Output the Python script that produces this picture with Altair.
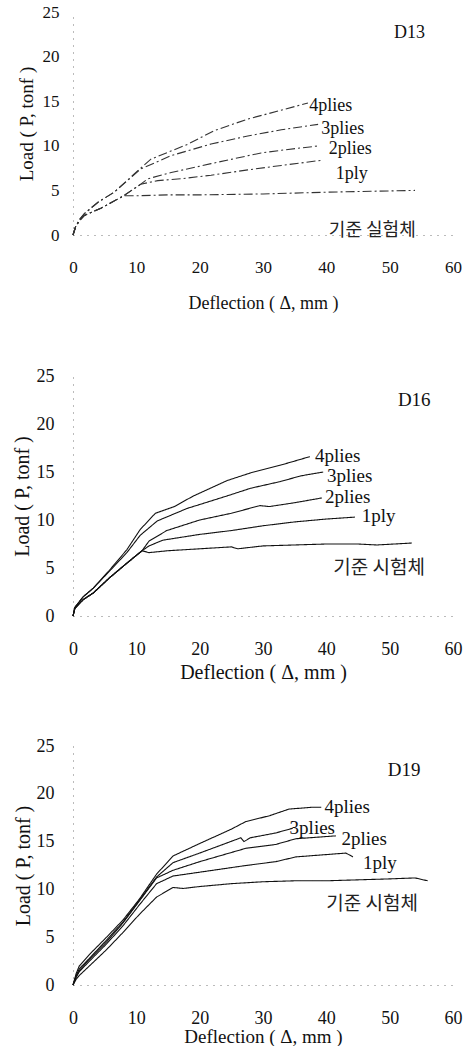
import altair as alt
import pandas as pd

# ---------------- data ----------------
SERIES = ["기준", "1ply", "2plies", "3plies", "4plies"]

# D13
D13_BASE_X = [0, 0.4, 1, 1.8, 4.4, 8, 10, 15, 20, 30, 40, 47, 54]
D13_BASE_Y = [0, 0.9, 1.6, 2.2, 3.0, 4.4, 4.4, 4.5, 4.5, 4.6, 4.8, 4.9, 5.0]
D13_1PLY_X = [0, 0.4, 1, 1.8, 4.4, 8, 10.7, 13.4, 17, 21.8, 27.6, 32.9, 39.5]
D13_1PLY_Y = [0, 0.9, 1.6, 2.2, 3.0, 4.4, 5.7, 6.1, 6.3, 6.7, 7.3, 7.8, 8.4]
D13_2PLY_X = [0, 0.4, 1, 1.8, 4.4, 8, 10.7, 11.8, 15.5, 21.8, 29.7, 32.9, 38.9]
D13_2PLY_Y = [0, 0.9, 1.6, 2.2, 3.0, 4.4, 5.7, 6.3, 7.0, 8.0, 9.2, 9.5, 10.0]
D13_3PLY_X = [0, 0.4, 1, 1.8, 4, 6.5, 10.7, 15.5, 21.8, 27.6, 32.9, 38.7]
D13_3PLY_Y = [0, 0.9, 1.7, 2.4, 3.7, 4.8, 7.4, 8.9, 10.2, 11.1, 11.8, 12.4]
D13_4PLY_X = [0, 0.4, 1, 1.8, 4, 6.5, 10.7, 12.3, 18.2, 22.3, 27.6, 32.4, 37.1]
D13_4PLY_Y = [0, 0.9, 1.7, 2.4, 3.7, 4.8, 7.5, 8.5, 10.2, 11.7, 13.0, 13.9, 14.8]

# D16
D16_BASE_X = [0, 0.3, 1.6, 3.2, 5.8, 8.5, 10.9, 12, 15, 20, 25, 26, 30, 35, 40, 45, 48, 53.5]
D16_BASE_Y = [0, 0.8, 1.7, 2.4, 4.0, 5.5, 6.8, 6.6, 6.8, 7.0, 7.2, 7.0, 7.3, 7.4, 7.5, 7.5, 7.4, 7.6]
D16_1PLY_X = [0, 0.3, 1.6, 3.2, 5.8, 8.5, 10.9, 12, 14.2, 20, 25, 30, 35, 40, 44.5]
D16_1PLY_Y = [0, 0.8, 1.7, 2.4, 4.0, 5.5, 6.8, 7.3, 7.9, 8.5, 8.9, 9.4, 9.8, 10.1, 10.3]
D16_2PLY_X = [0, 0.3, 1.6, 3.2, 5.8, 8.5, 10.9, 12, 14.8, 20, 25, 29.5, 31, 35, 39.3]
D16_2PLY_Y = [0, 0.8, 1.7, 2.4, 4.0, 5.5, 6.8, 7.8, 8.9, 10.0, 10.7, 11.5, 11.4, 11.8, 12.3]
D16_3PLY_X = [0, 0.3, 1.6, 3.2, 5.8, 8.5, 10.6, 13.3, 18, 24.3, 28, 32.7, 36, 39.5]
D16_3PLY_Y = [0, 0.9, 2.0, 2.9, 4.7, 6.6, 8.4, 9.9, 11.2, 12.5, 13.3, 14.0, 14.6, 15.0]
D16_4PLY_X = [0, 0.3, 1.6, 3.2, 5.8, 8.5, 10.6, 13, 16, 19, 24.3, 28, 32.7, 37.4]
D16_4PLY_Y = [0, 0.9, 2.0, 2.9, 4.8, 6.9, 9.0, 10.7, 11.4, 12.5, 14.1, 14.9, 15.7, 16.6]

# D19
D19_BASE_X = [0, 0.5, 1, 2.6, 5.3, 7.9, 10.5, 13.2, 15.8, 17.4, 20, 25, 30, 35, 40, 45, 50, 54, 56]
D19_BASE_Y = [0, 0.6, 1.0, 2.0, 3.7, 5.5, 7.4, 9.2, 10.2, 10.1, 10.3, 10.6, 10.8, 10.9, 10.9, 11.0, 11.1, 11.2, 10.9]
D19_1PLY_X = [0, 0.5, 1, 2.6, 5.3, 7.9, 10.5, 13.2, 15.8, 20, 27.3, 32, 35.2, 43.1, 44.2]
D19_1PLY_Y = [0, 0.8, 1.4, 2.5, 4.3, 6.2, 8.4, 10.6, 11.4, 11.8, 12.5, 12.9, 13.4, 13.8, 13.4]
D19_2PLY_X = [0, 0.5, 1, 2.6, 5.3, 7.9, 10.5, 13.2, 15.8, 20, 27.3, 32, 35.2, 41.5]
D19_2PLY_Y = [0, 0.9, 1.5, 2.7, 4.5, 6.5, 8.8, 11.2, 12.0, 12.9, 14.3, 14.7, 15.3, 15.6]
D19_3PLY_X = [0, 0.5, 1, 2.6, 5.3, 7.9, 10.5, 13.2, 15.8, 20, 26.5, 27, 28, 32, 34.7]
D19_3PLY_Y = [0, 1.0, 1.7, 2.8, 4.7, 6.6, 8.9, 11.3, 12.8, 13.8, 15.4, 15.0, 15.4, 15.9, 16.4]
D19_4PLY_X = [0, 0.5, 1, 2.6, 5.3, 7.9, 10.5, 13.2, 15.8, 20, 25, 27.3, 31, 34.1, 37.9, 39.2]
D19_4PLY_Y = [0, 1.2, 2.0, 3.2, 5.0, 6.8, 9.0, 11.6, 13.5, 14.8, 16.3, 17.1, 17.7, 18.4, 18.6, 18.6]

# curve labels: text, x (left edge), y (centre)
D13_LABELS = ["4plies", "3plies", "2plies", "1ply"]
D13_LABEL_X = [37.3, 39.2, 40.4, 41.5]
D13_LABEL_Y = [14.5, 11.9, 9.6, 6.8]
D16_LABELS = ["4plies", "3plies", "2plies", "1ply"]
D16_LABEL_X = [38.2, 40.1, 39.8, 45.6]
D16_LABEL_Y = [16.7, 14.6, 12.4, 10.4]
D19_LABELS = ["4plies", "3plies", "2plies", "1ply"]
D19_LABEL_X = [39.7, 34.2, 42.4, 45.8]
D19_LABEL_Y = [18.6, 16.4, 15.3, 12.8]

KOR_LABELS = ["기준 실험체", "기준 시험체", "기준 시험체"]
KOR_X = [40.4, 41.1, 40.0]
KOR_Y = [0.45, 5.0, 8.5]

PANEL_NAMES = ["D13", "D16", "D19"]
PANEL_NAME_X = [50.7, 51.3, 49.7]
PANEL_NAME_Y = [22.6, 22.5, 22.5]

X_TICKS = [0, 10, 20, 30, 40, 50, 60]
Y_TICKS = [0, 5, 10, 15, 20, 25]

SERIF = "Liberation Serif"
KFONT = "Noto Sans CJK KR"


def curves_df(xs_list, ys_list):
    rows = []
    for name, xs, ys in zip(SERIES, xs_list, ys_list):
        for i, (x, y) in enumerate(zip(xs, ys)):
            rows.append({"series": name, "x": x, "y": y, "i": i})
    return pd.DataFrame(rows)


def panel(k, xs_list, ys_list, labels, lx, ly, height, dash, stroke,
          tick_font, xt_font, yt_font, lab_font, kor_font,
          lab_pad_y, title_pad_x, title_pad_y):
    df = curves_df(xs_list, ys_list)
    xsc = alt.Scale(domain=[0, 60], nice=False, zero=False)
    ysc = alt.Scale(domain=[0, 25], nice=False, zero=False)
    xax = alt.Axis(values=X_TICKS, title="Deflection ( Δ, mm )", grid=False,
                   ticks=False, tickSize=0, labelPadding=24,
                   labelFontSize=tick_font, titleFontSize=xt_font,
                   titlePadding=title_pad_x,
                   labelFont=SERIF, titleFont=SERIF, titleFontWeight="normal",
                   domainDash=[1, 6], domainColor="#777", labelColor="#111",
                   titleColor="#111", labelFlush=False)
    yax = alt.Axis(values=Y_TICKS, title="Load ( P, tonf )", grid=False,
                   ticks=False, tickSize=0, labelPadding=lab_pad_y,
                   labelFontSize=tick_font, titleFontSize=yt_font,
                   titlePadding=title_pad_y, labelFont=SERIF, titleFont=SERIF,
                   titleFontWeight="normal", domainDash=[1, 6],
                   domainColor="#777", labelColor="#111", titleColor="#111",
                   labelFlush=False)
    lines = alt.Chart(df).mark_line(
        color=stroke, strokeWidth=1.1, strokeDash=dash, interpolate="linear"
    ).encode(
        x=alt.X("x:Q", scale=xsc, axis=xax),
        y=alt.Y("y:Q", scale=ysc, axis=yax),
        detail="series:N",
        order="i:Q",
    )
    lab_df = pd.DataFrame({"t": labels, "x": lx, "y": ly})
    labs = alt.Chart(lab_df).mark_text(
        align="left", baseline="middle", font=SERIF, fontSize=lab_font,
        color="#111"
    ).encode(x=alt.X("x:Q", scale=xsc), y=alt.Y("y:Q", scale=ysc), text="t:N")
    kor_df = pd.DataFrame({"t": [KOR_LABELS[k]], "x": [KOR_X[k]], "y": [KOR_Y[k]]})
    kor = alt.Chart(kor_df).mark_text(
        align="left", baseline="middle", font=KFONT, fontSize=kor_font,
        color="#222"
    ).encode(x=alt.X("x:Q", scale=xsc), y=alt.Y("y:Q", scale=ysc), text="t:N")
    nm_df = pd.DataFrame({"t": [PANEL_NAMES[k]], "x": [PANEL_NAME_X[k]],
                          "y": [PANEL_NAME_Y[k]]})
    nm = alt.Chart(nm_df).mark_text(
        align="left", baseline="middle", font=SERIF, fontSize=lab_font,
        color="#111"
    ).encode(x=alt.X("x:Q", scale=xsc), y=alt.Y("y:Q", scale=ysc), text="t:N")
    return alt.layer(lines, labs, kor, nm).properties(width=380, height=height)


p1 = panel(0,
           [D13_BASE_X, D13_1PLY_X, D13_2PLY_X, D13_3PLY_X, D13_4PLY_X],
           [D13_BASE_Y, D13_1PLY_Y, D13_2PLY_Y, D13_3PLY_Y, D13_4PLY_Y],
           D13_LABELS, D13_LABEL_X, D13_LABEL_Y, 223, [9, 3, 2, 3], "#333",
           17, 18, 19, 18, 18, 14, 19, 6)
p2 = panel(1,
           [D16_BASE_X, D16_1PLY_X, D16_2PLY_X, D16_3PLY_X, D16_4PLY_X],
           [D16_BASE_Y, D16_1PLY_Y, D16_2PLY_Y, D16_3PLY_Y, D16_4PLY_Y],
           D16_LABELS, D16_LABEL_X, D16_LABEL_Y, 240, [1, 0], "#111",
           18, 20, 20, 19, 19, 19, 4, 4)
p3 = panel(2,
           [D19_BASE_X, D19_1PLY_X, D19_2PLY_X, D19_3PLY_X, D19_4PLY_X],
           [D19_BASE_Y, D19_1PLY_Y, D19_2PLY_Y, D19_3PLY_Y, D19_4PLY_Y],
           D19_LABELS, D19_LABEL_X, D19_LABEL_Y, 239, [1, 0], "#111",
           18, 19, 20, 19, 19, 19, 0, 3)

chart = alt.vconcat(p1, p2, p3, spacing=55).properties(
    padding={"left": 12, "top": 3, "right": 5, "bottom": 0},
    background="white",
).configure_view(stroke=None).configure_axis(
    labelFont=SERIF, titleFont=SERIF
).configure_text(font=SERIF)

chart.save("out.html", embed_options={"renderer": "svg", "actions": False})
